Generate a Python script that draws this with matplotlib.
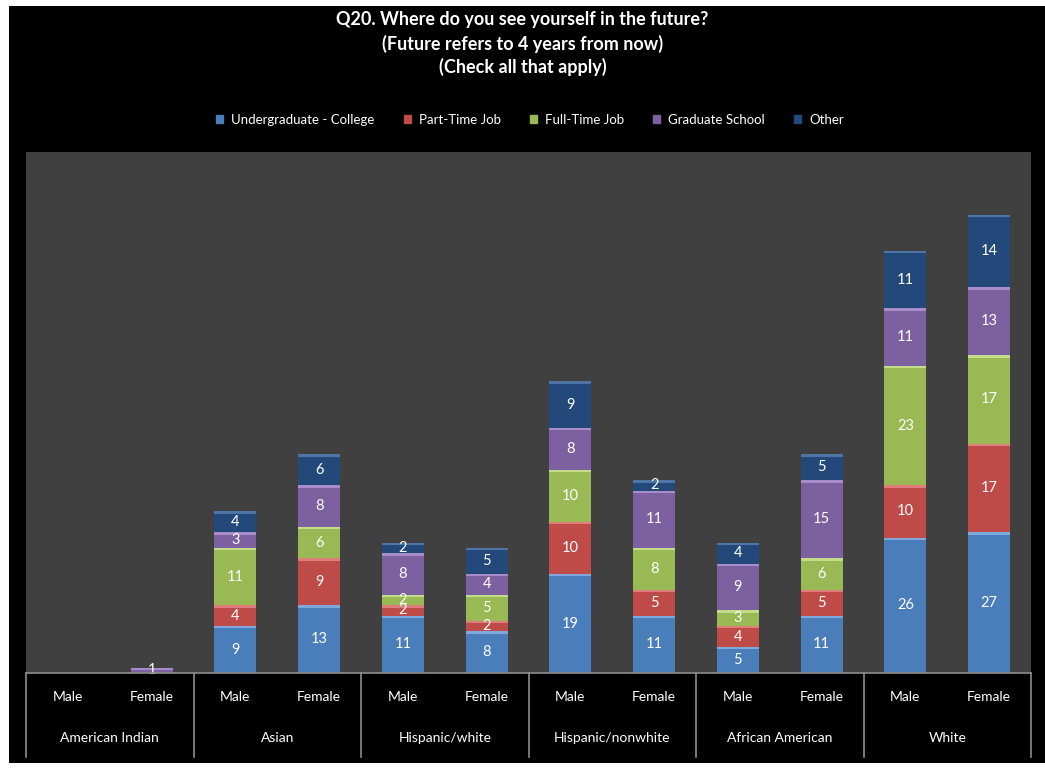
import matplotlib.pyplot as plt
import matplotlib.patches as mpatches
import numpy as np

plt.rcParams['font.family'] = ['Lato', 'DejaVu Sans']

groups = ["American Indian", "Asian", "Hispanic/white", "Hispanic/nonwhite",
          "African American", "White"]
genders = ["Male", "Female"]
series = ["Undergraduate - College", "Part-Time Job", "Full-Time Job",
          "Graduate School", "Other"]

# one value per bar: Male/Female for each group in order
undergrad = [0, 0, 9, 13, 11, 8, 19, 11, 5, 11, 26, 27]
part_time = [0, 0, 4, 9, 2, 2, 10, 5, 4, 5, 10, 17]
full_time = [0, 0, 11, 6, 2, 5, 10, 8, 3, 6, 23, 17]
grad_school = [0, 1, 3, 8, 8, 4, 8, 11, 9, 15, 11, 13]
other = [0, 0, 4, 6, 2, 5, 9, 2, 4, 5, 11, 14]

title_lines = ["Q20. Where do you see yourself in the future?",
               "(Future refers to 4 years from now)",
               "(Check all that apply)"]

colours = ['#4a7ebb', '#be4b48', '#98b954', '#7d60a0', '#23497a']
highlights = ['#7fa8dc', '#e07c79', '#c3dc8a', '#a88cc8', '#4f74a6']

W, H = 1045, 768
fig = plt.figure(figsize=(W / 100, H / 100), dpi=100, facecolor='white')
fig.add_artist(mpatches.Rectangle((9 / W, 5 / H), 1 - 9 / W, 1 - 11 / H,
                                  transform=fig.transFigure, facecolor='black',
                                  edgecolor='none', zorder=-5))

ax = fig.add_axes([26 / W, (H - 673) / H, (1031 - 26) / W, (673 - 152) / H])
ax.set_facecolor('#404040')

values = [undergrad, part_time, full_time, grad_school, other]
x = np.arange(len(undergrad))
bottom = np.zeros(len(x))
width = 0.5
for name, vals, col, hi in zip(series, values, colours, highlights):
    vals = np.array(vals, dtype=float)
    bars = ax.bar(x, vals, width, bottom=bottom, color=col, edgecolor='none',
                  label=name, zorder=2)
    # lighter bevel strip along top of each segment
    strip = np.minimum(vals, 0.45)
    ax.bar(x, strip, width, bottom=bottom + vals - strip, color=hi,
           edgecolor='none', zorder=3)
    labels = [f"{int(v)}" if v > 0 else "" for v in vals]
    ax.bar_label(bars, labels=labels, label_type='center', color='white',
                 fontsize=10.5, zorder=4)
    bottom += vals

ax.set_xlim(-0.5, len(x) - 0.5)
ax.set_ylim(0, 100)
ax.set_xticks([])
ax.set_yticks([])
for s in ax.spines.values():
    s.set_visible(False)

# category table under the plot
tab = fig.add_axes([26 / W, (H - 757) / H, (1031 - 26) / W, (757 - 673) / H])
tab.set_xlim(-0.5, len(x) - 0.5)
tab.set_ylim(0, 1)
tab.axis('off')
line_col = '#8c8c8c'
tab.axhline(1, color=line_col, lw=1.2, clip_on=False)
for b in np.arange(-0.5, len(x), 2):
    tab.axvline(b, color=line_col, lw=1.2, clip_on=False)
for i in x:
    tab.text(i, 0.71, genders[i % 2], color='white', fontsize=10,
             ha='center', va='center')
for g, name in enumerate(groups):
    tab.text(2 * g + 0.5, 0.23, name, color='white', fontsize=10,
             ha='center', va='center')

# title and legend
for k, line in enumerate(title_lines):
    fig.text(0.5, 1 - (20 + 23.5 * k) / H, line, color='white', fontsize=13,
             fontweight='bold', ha='center', va='center')

handles = [mpatches.Patch(color=c, label=s) for c, s in zip(colours, series)]
fig.legend(handles=handles, loc='center', bbox_to_anchor=(530 / W, 1 - 120 / H),
           ncol=5, frameon=False, fontsize=9.5, labelcolor='white',
           handlelength=0.55, handleheight=0.55, handletextpad=0.6,
           columnspacing=2.2)

fig.savefig('out.png', dpi=100, facecolor=fig.get_facecolor())
